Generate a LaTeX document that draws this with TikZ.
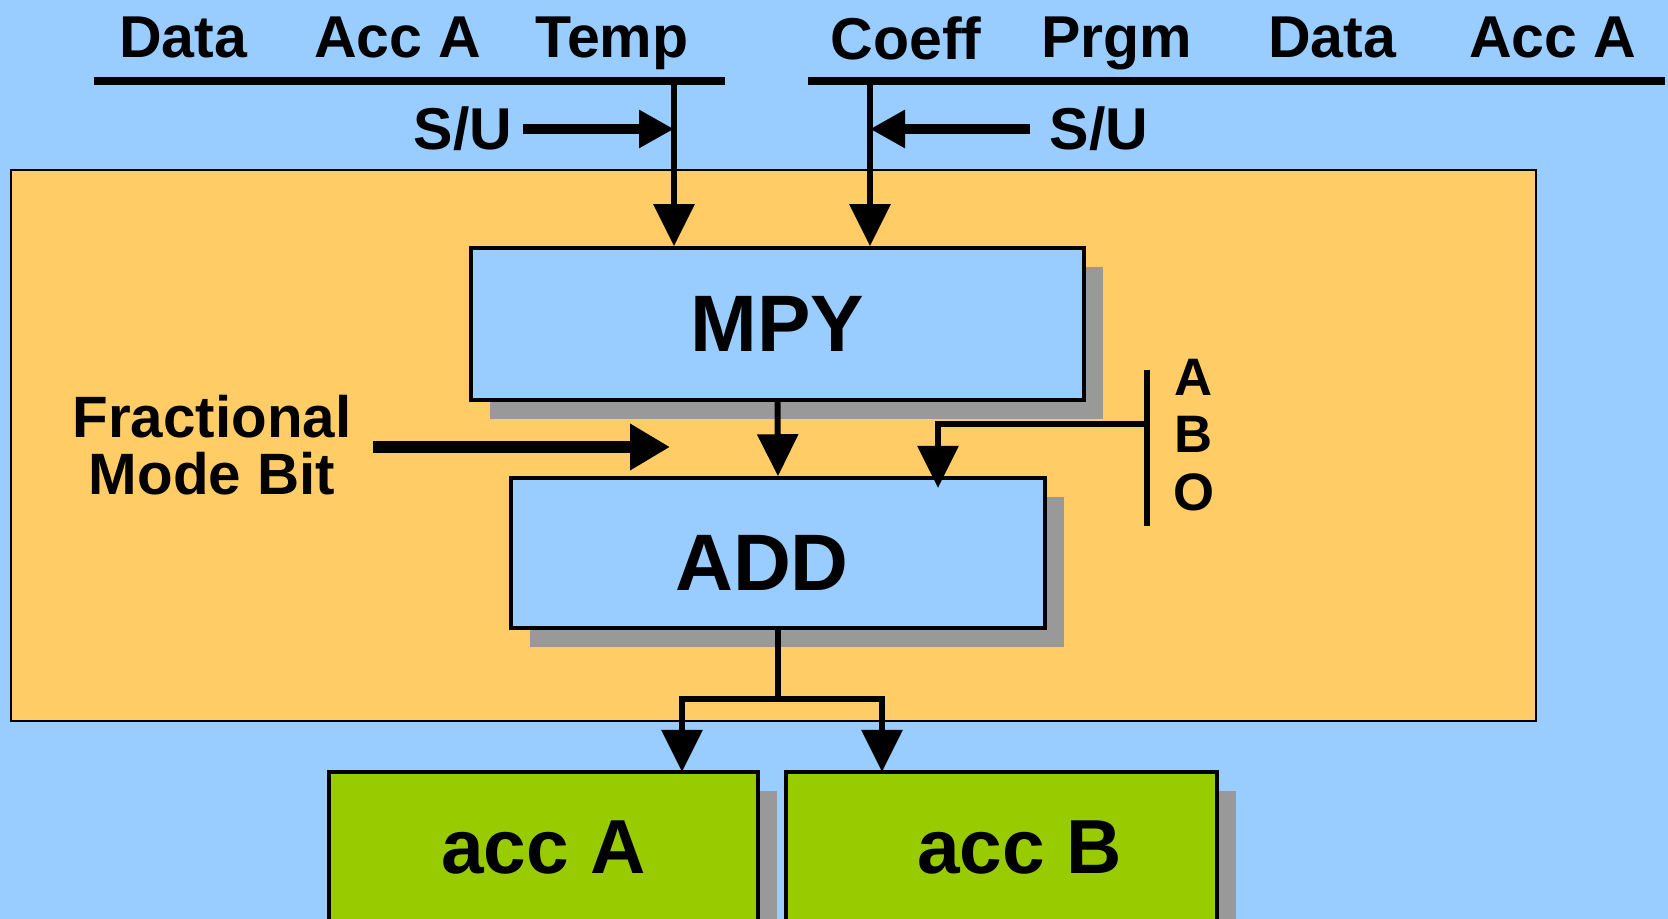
\documentclass[tikz,border=0pt]{standalone}
\usepackage{fontspec}
\setmainfont{Liberation Sans}
\usetikzlibrary{arrows.meta,positioning,shadows,calc}
\definecolor{bgblue}{HTML}{99CCFF}
\definecolor{coreorange}{HTML}{FFCC66}
\definecolor{accgreen}{HTML}{99CC00}
\definecolor{shadowgray}{HTML}{999999}

\begin{document}
\begin{tikzpicture}[
    unit/.style={rectangle, draw=black, line width=1pt, inner sep=0pt, font=\fontsize{22.8}{24}\selectfont\bfseries,
        drop shadow={shadow xshift=0.19cm, shadow yshift=-0.19cm, fill=shadowgray, opacity=1}},
    alu/.style={unit, fill=bgblue},
    acc/.style={unit, fill=accgreen, font=\fontsize{21.8}{23}\selectfont\bfseries},
    buslabel/.style={anchor=base, inner sep=0pt, font=\fontsize{16.8}{18}\selectfont\bfseries},
    bus/.style={line width=2.4pt},
    wire/.style={line width=1.7pt},
    arr/.style={wire, -{Triangle[length=0.42cm, width=0.40cm]}},
    ctrl/.style={line width=2.9pt, -{Triangle[length=0.35cm, width=0.36cm]}}
]
    \useasboundingbox (0,0) rectangle (16.68,-9.19);
    \fill[bgblue] (0,0) rectangle (16.68,-9.19);

    % core block
    \node[draw=black, line width=0.8pt, fill=coreorange, minimum width=15.25cm, minimum height=5.51cm] (core) at (7.735,-4.455) {};
    \node[alu, minimum width=6.13cm, minimum height=1.52cm] (mpy) at (7.775,-3.24) {MPY};
    \node[alu, minimum width=5.34cm, minimum height=1.50cm, text height=0.744cm, text depth=0pt] (add) at (7.78,-5.53) {\hspace*{-0.32cm}ADD};

    % accumulators
    \node[acc, minimum width=4.29cm, minimum height=1.52cm, anchor=north] (acca) at (5.435,-7.70) {acc A};
    \node[acc, minimum width=4.31cm, minimum height=1.52cm, anchor=north] (accb) at (10.015,-7.70) {\hspace*{0.36cm}acc B};

    % buses
    \node[buslabel] (srcData) at (1.83,-0.575) {Data};
    \node[buslabel] (srcAccA) at (3.98,-0.575) {Acc A};
    \node[buslabel] (srcTemp) at (6.12,-0.575) {Temp};
    \node[buslabel] (srcCoeff) at (9.06,-0.60) {Coeff};
    \node[buslabel] (srcPrgm) at (11.17,-0.575) {Prgm};
    \node[buslabel] (srcData2) at (13.32,-0.575) {Data};
    \node[buslabel] (srcAccA2) at (15.53,-0.575) {Acc A};
    \coordinate (busLw) at (0.94,-0.81);
    \coordinate (busLe) at (7.25,-0.81);
    \coordinate (busRw) at (8.08,-0.81);
    \coordinate (busRe) at (16.65,-0.81);
    \draw[bus] (busLw) -- (busLe);
    \draw[bus] (busRw) -- (busRe);

    \coordinate (tapL) at (6.74,-0.81);
    \coordinate (tapR) at (8.70,-0.81);
    \draw[arr] (tapL) -- (tapL |- mpy.north);
    \draw[arr] (tapR) -- (tapR |- mpy.north);

    % sign control
    \node[buslabel, anchor=center] (suL) at (4.63,-1.29) {S/U};
    \node[buslabel, anchor=center] (suR) at (10.99,-1.29) {S/U};
    \draw[ctrl] ([xshift=0.1cm]suL.east) -- (suL -| tapL);
    \draw[ctrl] ([xshift=-0.19cm]suR.west) -- (suR -| tapR);

    % fractional mode
    \node[align=center, inner sep=0pt, font=\fontsize{16.6}{16.2}\selectfont\bfseries] (fmb) at (2.12,-4.45) {Fractional\\Mode Bit};
    \coordinate (fmbTip) at (6.70,-4.47);
    \draw[line width=3.2pt, -{Triangle[length=0.40cm, width=0.44cm]}] ([xshift=0.21cm]fmb.east |- fmbTip) -- (fmbTip);

    % A/B/O select
    \coordinate (aboT) at (11.47,-3.70);
    \coordinate (aboB) at (11.47,-5.26);
    \draw[wire] (aboT) -- (aboB);
    \node[align=center, inner sep=0pt, font=\fontsize{15}{16.4}\selectfont\bfseries] (abo) at (11.94,-4.35) {A\\B\\O};
    \coordinate (aboTap) at (11.47,-4.24);
    \coordinate (aboIn) at (9.38,-4.88);
    \draw[arr] (aboTap) -| (aboIn);

    \draw[arr] (mpy.south) -- (add.north);

    % result to accumulators
    \coordinate (split) at (7.78,-6.99);
    \coordinate (inA) at (6.82,-7.72);
    \coordinate (inB) at (8.82,-7.72);
    \draw[wire] (add.south) -- (split);
    \draw[arr] (split) -| (inA);
    \draw[arr] (split) -| (inB);
\end{tikzpicture}
\end{document}
